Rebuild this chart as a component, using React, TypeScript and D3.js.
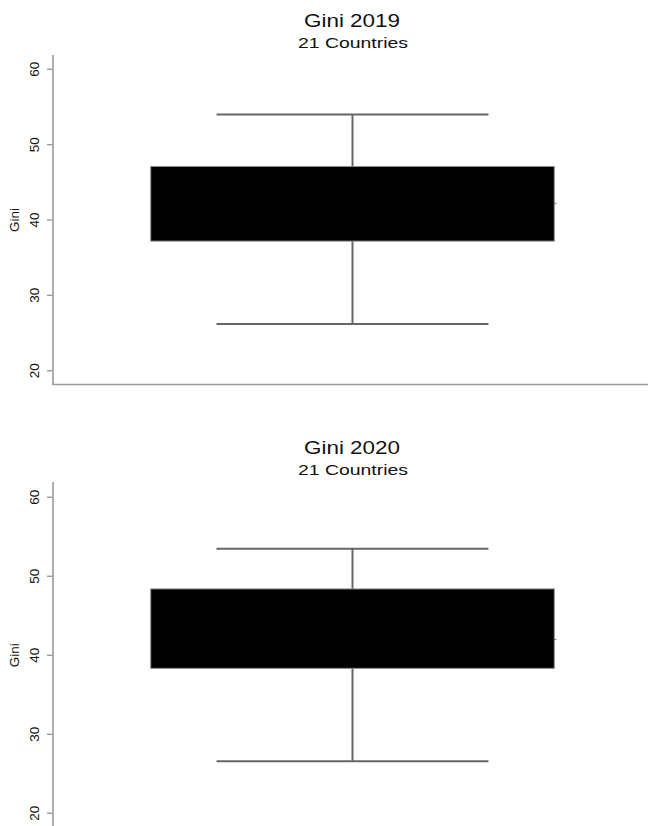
import React from 'react';
import * as d3 from 'd3';

const titles = ['Gini 2019', 'Gini 2020'];
const subtitles = ['21 Countries', '21 Countries'];
const lowerWhisker = [26.2, 26.6];
const q1 = [37.2, 38.35];
const median = [42.2, 42.0];
const q3 = [47.1, 48.4];
const upperWhisker = [54.0, 53.5];
const yTicks = [20, 30, 40, 50, 60];

const width = 648;
const height = 826;
const font = '"Liberation Sans", Arial, Helvetica, sans-serif';

// per-panel layout: y range of the 20..60 domain, axis extent, title baselines
const panels = [
  { y0: 370.7, y1: 69.3, axisTop: 55, axisBottom: 384.5, titleY: 27.3, subY: 48.3, xAxis: true },
  { y0: 813.3, y1: 497.3, axisTop: 482, axisBottom: 830, titleY: 454, subY: 475, xAxis: false },
];

const Panel = ({ i }: { i: number }) => {
  const p = panels[i];
  const y = d3.scaleLinear().domain([20, 60]).range([p.y0, p.y1]);
  const x = d3.scaleBand<string>().domain([titles[i]]).range([53, 652]).padding(0.195);
  const bx = x(titles[i]) as number;
  const bw = x.bandwidth();
  const cx = bx + bw / 2;
  const capHalf = bw * 0.337;
  const axisColor = '#9a9a9a';
  const lineColor = '#666';

  return (
    <g>
      {/* titles */}
      <text x={352} y={p.titleY} textAnchor="middle" fontSize={18.5} fill="#111"
        textLength={96} lengthAdjust="spacingAndGlyphs">{titles[i]}</text>
      <text x={353} y={p.subY} textAnchor="middle" fontSize={14} fill="#111"
        textLength={110} lengthAdjust="spacingAndGlyphs">{subtitles[i]}</text>

      {/* y axis */}
      <line x1={53} x2={53} y1={p.axisTop} y2={p.axisBottom} stroke={axisColor} strokeWidth={1.6} />
      {p.xAxis && (
        <line x1={52.2} x2={648} y1={p.axisBottom} y2={p.axisBottom} stroke={axisColor} strokeWidth={1.6} />
      )}
      {yTicks.map(t => (
        <g key={t}>
          <line x1={47} x2={53} y1={y(t)} y2={y(t)} stroke={axisColor} strokeWidth={1.4} />
          <text transform={`translate(34,${y(t)}) rotate(-90)`} textAnchor="middle"
            dominantBaseline="central" fontSize={13.5} fill="#111">{t}</text>
        </g>
      ))}
      <text transform={`translate(14,${y(40)}) rotate(-90)`} textAnchor="middle"
        dominantBaseline="central" fontSize={13.5} fill="#111">Gini</text>

      {/* whiskers */}
      <line x1={cx} x2={cx} y1={y(upperWhisker[i])} y2={y(q3[i])} stroke={lineColor} strokeWidth={2} />
      <line x1={cx} x2={cx} y1={y(q1[i])} y2={y(lowerWhisker[i])} stroke={lineColor} strokeWidth={2} />
      <line x1={cx - capHalf} x2={cx + capHalf} y1={y(upperWhisker[i])} y2={y(upperWhisker[i])} stroke={lineColor} strokeWidth={2} />
      <line x1={cx - capHalf} x2={cx + capHalf} y1={y(lowerWhisker[i])} y2={y(lowerWhisker[i])} stroke={lineColor} strokeWidth={2} />

      {/* median, mostly hidden by the box */}
      <line x1={bx} x2={bx + bw + 2} y1={y(median[i])} y2={y(median[i])} stroke={lineColor} strokeWidth={1} />

      {/* box */}
      <rect x={bx} y={y(q3[i])} width={bw} height={y(q1[i]) - y(q3[i])} fill="#000" stroke="#8a8a8a" strokeWidth={1} />
    </g>
  );
};

export default function App() {
  return (
    <div style={{ position: 'absolute', left: 0, top: 0 }}>
      <svg width={width} height={height} style={{ display: 'block', fontFamily: font, background: '#fff' }}>
        {titles.map((_, i) => <Panel key={i} i={i} />)}
      </svg>
    </div>
  );
}
